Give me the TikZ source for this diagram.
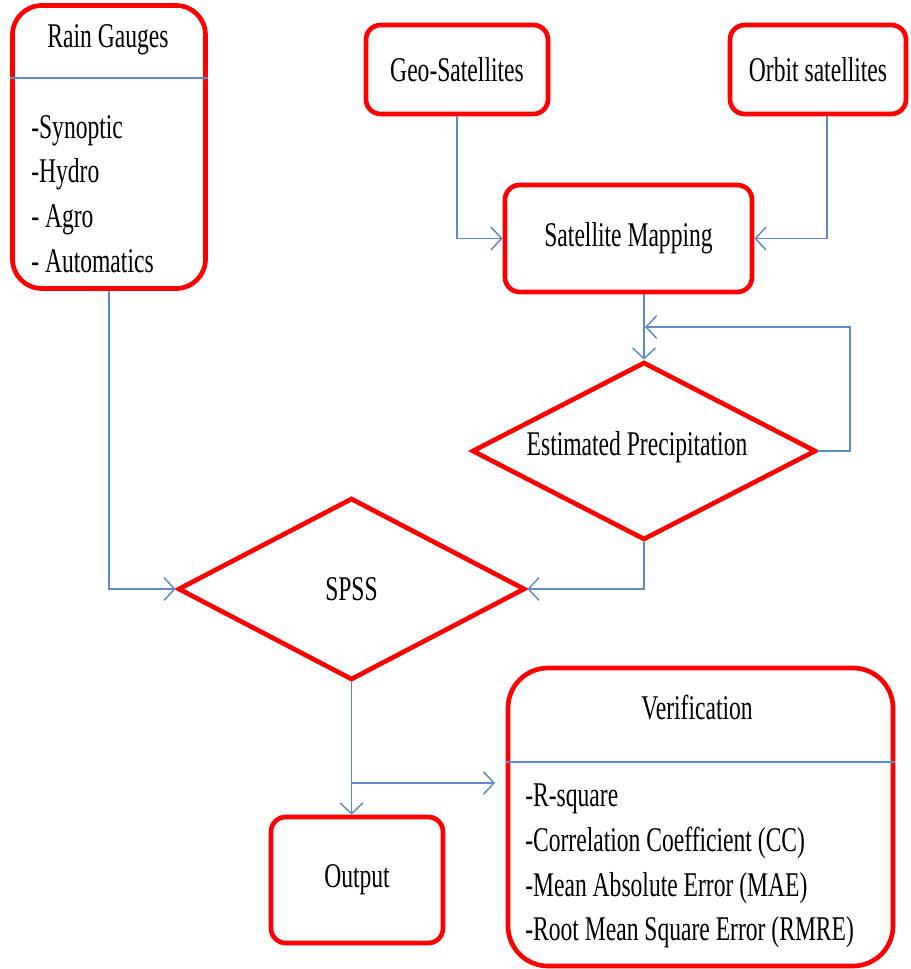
\documentclass[tikz,border=0pt]{standalone}
\usepackage{fontspec}
\setmainfont{Liberation Serif}[FakeStretch=0.68]
\definecolor{fcred}{HTML}{FF0000}
\definecolor{fcblue}{HTML}{5B8BC8}
\usetikzlibrary{arrows.meta,shapes.geometric}

\begin{document}
\begin{tikzpicture}[x=0.75pt,y=-0.75pt,
  obj/.style={draw=fcred,line width=3.5pt,rounded corners=11pt,fill=white,
    font=\fontsize{26}{33}\selectfont,inner sep=0pt},
  dec/.style={diamond,draw=fcred,line width=3.5pt,fill=white,aspect=2,
    font=\fontsize{26}{33}\selectfont,inner sep=0pt},
  lbl/.style={font=\fontsize{26}{33}\selectfont,inner sep=0pt},
  lst/.style={font=\fontsize{26}{33.5}\selectfont,align=left,inner sep=0pt,anchor=west},
  sep/.style={fcblue,line width=1.1pt},
  arr/.style={-{Straight Barb[length=8pt,width=17pt]},fcblue,line width=1.1pt}]
  \useasboundingbox (0,0) rectangle (910,969);
  % input side
  \node[obj,rounded corners=22pt,minimum width=144.75pt,minimum height=212.25pt] (rain) at (109,147) {};
  \node[obj,minimum width=136.5pt,minimum height=66.75pt] (geo) at (457,69.5) {Geo-Satellites};
  \node[obj,minimum width=132pt,minimum height=66.75pt] (orbit) at (818,69.5) {Orbit satellites};
  \node[obj,minimum width=185.25pt,minimum height=80.25pt] (satmap) at (628.5,238.5) {Satellite Mapping};
  \node[dec,minimum width=258pt,minimum height=133.5pt] (est) at (644,451) {};
  \node[lbl] (esttxt) at (637,447) {Estimated Precipitation};
  % processing and results
  \node[dec,minimum width=260.25pt,minimum height=136.5pt] (spss) at (351.5,589) {SPSS};
  \node[obj,minimum width=129pt,minimum height=94.5pt] (output) at (357,880) {Output};
  \node[obj,rounded corners=30pt,minimum width=288.75pt,minimum height=223.5pt] (verif) at (700.5,817) {};
  % box contents
  \node[lbl] (raintitle) at (108,40) {Rain Gauges};
  \draw[sep] (rain.west |- 0,78) -- (rain.east |- 0,78);
  \node[lst] (rainlist) at (31,194) {-Synoptic\\-Hydro\\- Agro\\- Automatics};
  \node[lbl] (veriftitle) at (697,708) {Verification};
  \draw[sep] (verif.west |- 0,762) -- (verif.east |- 0,762);
  \node[lst] (veriflist) at (525,866) {-R-square\\-Correlation Coefficient (CC)\\-Mean Absolute Error (MAE)\\-Root Mean Square Error (RMRE)};
  % connectors
  \coordinate (loopr) at (850,327);
  \coordinate (loopend) at (645,327);
  \coordinate (split) at (351,783);
  \draw[arr] (geo.south) |- (satmap.west);
  \draw[arr] ([xshift=6.75pt]orbit.south) |- (satmap.east);
  \draw[arr] (satmap.south -| est.north) -- (est.north);
  \draw[arr] (est.east) -| (loopr) -- (loopend);
  \draw[arr] (rain.south) |- (spss.west);
  \draw[arr] (est.south) |- (spss.east);
  \draw[arr] (spss.south) -- (spss.south |- output.north);
  \draw[arr] (split) -- ([xshift=-8pt]split -| verif.west);
\end{tikzpicture}
\end{document}
